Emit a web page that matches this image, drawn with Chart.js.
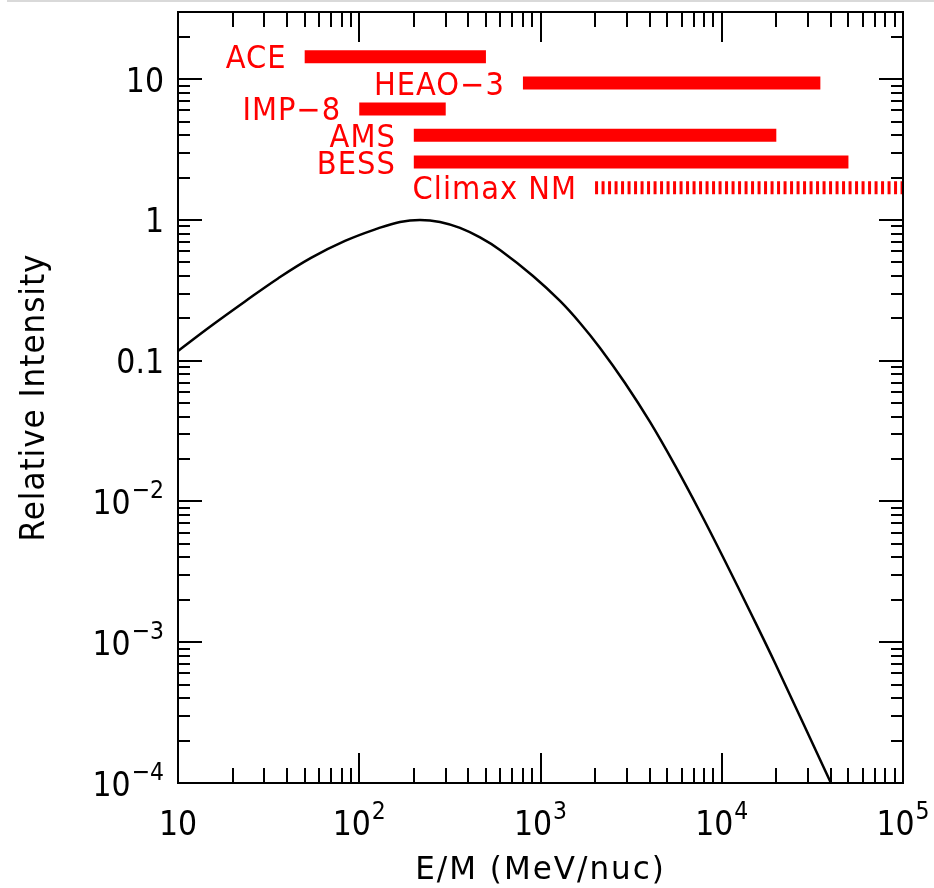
<!DOCTYPE html>
<html>
<head>
<meta charset="utf-8">
<script src="https://cdn.jsdelivr.net/npm/chart.js@4/dist/chart.umd.min.js"></script>
<style>
  html, body { margin: 0; padding: 0; background: #fff; }
  #contenedor { position: relative; width: 934px; height: 888px; }
  #lineaSuperior { position: absolute; left: 7px; right: 0; top: 0; height: 2px; background: #d9d9d9; }
</style>
</head>
<body>
<div id="contenedor">
  <canvas id="graficaEspectro"></canvas>
  <div id="lineaSuperior"></div>
</div>
<script>
// Curva de intensidad relativa
const energia = [10, 15.21, 23.43, 35.62, 54.19, 83.44, 126.9, 167.8, 216.3, 279, 359.7, 463.8, 597.9, 909.1, 1281, 1652, 2130, 2925, 4019, 5523, 7586, 10420, 14320, 19670, 39560, 51020];
const intensidad = [0.1173, 0.1765, 0.2636, 0.384, 0.537, 0.7091, 0.8701, 0.968, 1.0, 0.9678, 0.8773, 0.7509, 0.6119, 0.4, 0.2658, 0.1854, 0.1232, 0.06949, 0.03671, 0.01803, 0.00842, 0.003778, 0.001654, 0.0007121, 0.0001033, 0.0000511];

// Rangos de energía de cada instrumento
const instrumentos = ["ACE", "HEAO\u22123", "IMP\u22128", "AMS", "BESS", "Climax NM"];
const rangoMin = [50, 800, 100, 200, 200, 2000];
const rangoMax = [500, 35000, 300, 20000, 50000, 100000];
const nivel = [14.4, 9.4, 6.15, 4.0, 2.58, 1.69];

// Marcas de los ejes
const ticksX = [10, 100, 1000, 10000, 100000];
const etiquetasX = [["10", ""], ["10", "2"], ["10", "3"], ["10", "4"], ["10", "5"]];
const ticksY = [1e-4, 1e-3, 1e-2, 0.1, 1, 10];
const etiquetasY = [["10", "\u22124"], ["10", "\u22123"], ["10", "\u22122"], ["0.1", ""], ["1", ""], ["10", ""]];

const fuente = "DejaVu Sans";

// Texto estirado en vertical (la fuente original es más alta y estrecha)
function texto(ctx, str, x, y, estirar) {
  ctx.save();
  ctx.translate(x, y);
  ctx.scale(1, estirar);
  ctx.fillText(str, 0, 0);
  ctx.restore();
}

function textoPotencia(ctx, base, exp, x, y, tam, alinear) {
  ctx.font = tam + "px '" + fuente + "'";
  const wBase = ctx.measureText(base).width;
  const tamExp = Math.round(tam * 0.74);
  ctx.font = tamExp + "px '" + fuente + "'";
  const wExp = exp ? ctx.measureText(exp).width + 1 : 0;
  const total = wBase + wExp;
  const x0 = alinear === "right" ? x - total : x - total / 2;
  ctx.textAlign = "left";
  ctx.textBaseline = "alphabetic";
  ctx.font = tam + "px '" + fuente + "'";
  texto(ctx, base, x0, y, 1.15);
  if (exp) {
    ctx.font = tamExp + "px '" + fuente + "'";
    texto(ctx, exp, x0 + wBase + 1, y - tam * 0.52, 1.15);
  }
}

const marcoYEjes = {
  id: "marcoYEjes",
  afterDraw(chart) {
    const ctx = chart.ctx;
    const a = chart.chartArea;
    const sx = chart.scales.x;
    const sy = chart.scales.y;
    ctx.save();
    ctx.strokeStyle = "#000";
    ctx.fillStyle = "#000";
    ctx.lineWidth = 2;

    // Marcas del eje X (abajo y arriba, hacia dentro)
    for (let d = 1; d <= 5; d++) {
      for (let m = 1; m <= 9; m++) {
        const v = m * Math.pow(10, d);
        if (v > 100000) break;
        const px = Math.round(sx.getPixelForValue(v));
        const largo = m === 1 ? 30 : 15;
        ctx.beginPath();
        ctx.moveTo(px, a.bottom);
        ctx.lineTo(px, a.bottom - largo);
        ctx.moveTo(px, a.top);
        ctx.lineTo(px, a.top + largo);
        ctx.stroke();
      }
    }

    // Marcas del eje Y (izquierda y derecha)
    for (let d = -4; d <= 1; d++) {
      for (let m = 1; m <= 9; m++) {
        const v = m * Math.pow(10, d);
        if (v > 30) break;
        const py = Math.round(sy.getPixelForValue(v));
        const largo = m === 1 ? 24 : 12;
        ctx.beginPath();
        ctx.moveTo(a.left, py);
        ctx.lineTo(a.left + largo, py);
        ctx.moveTo(a.right, py);
        ctx.lineTo(a.right - largo, py);
        ctx.stroke();
      }
    }

    // Marco
    ctx.strokeRect(a.left, a.top, a.right - a.left, a.bottom - a.top);

    // Etiquetas de los ejes
    const tam = 30;
    ticksX.forEach((v, i) => {
      textoPotencia(ctx, etiquetasX[i][0], etiquetasX[i][1], sx.getPixelForValue(v), 835, tam, "center");
    });
    ticksY.forEach((v, i) => {
      textoPotencia(ctx, etiquetasY[i][0], etiquetasY[i][1], 164, sy.getPixelForValue(v) + tam * 0.364 * 1.15, tam, "right");
    });

    // Títulos
    ctx.font = "31px '" + fuente + "'";
    ctx.letterSpacing = "2px";
    ctx.textAlign = "center";
    ctx.textBaseline = "alphabetic";
    texto(ctx, "E/M (MeV/nuc)", (a.left + a.right) / 2, 879, 1.05);
    ctx.save();
    ctx.translate(44, (a.top + a.bottom) / 2);
    ctx.rotate(-Math.PI / 2);
    ctx.letterSpacing = "1px";
    texto(ctx, "Relative Intensity", 0, 0, 1.08);
    ctx.restore();

    // Nombres de los instrumentos
    ctx.fillStyle = "#ff0000";
    ctx.font = "29px '" + fuente + "'";
    ctx.letterSpacing = "1px";
    ctx.textAlign = "right";
    instrumentos.forEach((nombre, i) => {
      const px = sx.getPixelForValue(rangoMin[i]) - 18;
      const py = sy.getPixelForValue(nivel[i]) + 29 * 0.364 * 1.1;
      texto(ctx, nombre, px, py, 1.1);
    });
    ctx.letterSpacing = "0px";
    ctx.restore();
  }
};

const datasets = [{
  label: "Intensidad",
  data: energia.map((e, i) => ({ x: e, y: intensidad[i] })),
  borderColor: "#000",
  borderWidth: 2.5,
  pointRadius: 0,
  tension: 0.4,
  fill: false
}];

instrumentos.forEach((nombre, i) => {
  datasets.push({
    label: nombre,
    data: [{ x: rangoMin[i], y: nivel[i] }, { x: rangoMax[i], y: nivel[i] }],
    borderColor: "#ff0000",
    borderWidth: 13,
    borderDash: nombre === "Climax NM" ? [3, 3.5] : [],
    borderCapStyle: "butt",
    pointRadius: 0,
    fill: false
  });
});

new Chart(document.getElementById("graficaEspectro").getContext("2d"), {
  type: "line",
  data: { datasets },
  options: {
    responsive: true,
    maintainAspectRatio: false,
    animation: false,
    layout: { padding: { left: 178, top: 12, right: 31, bottom: 105 } },
    plugins: {
      legend: { display: false },
      tooltip: { enabled: false }
    },
    scales: {
      x: { type: "logarithmic", min: 10, max: 100000, display: false },
      y: { type: "logarithmic", min: 1e-4, max: 30, display: false }
    }
  },
  plugins: [marcoYEjes]
});
</script>
</body>
</html>
